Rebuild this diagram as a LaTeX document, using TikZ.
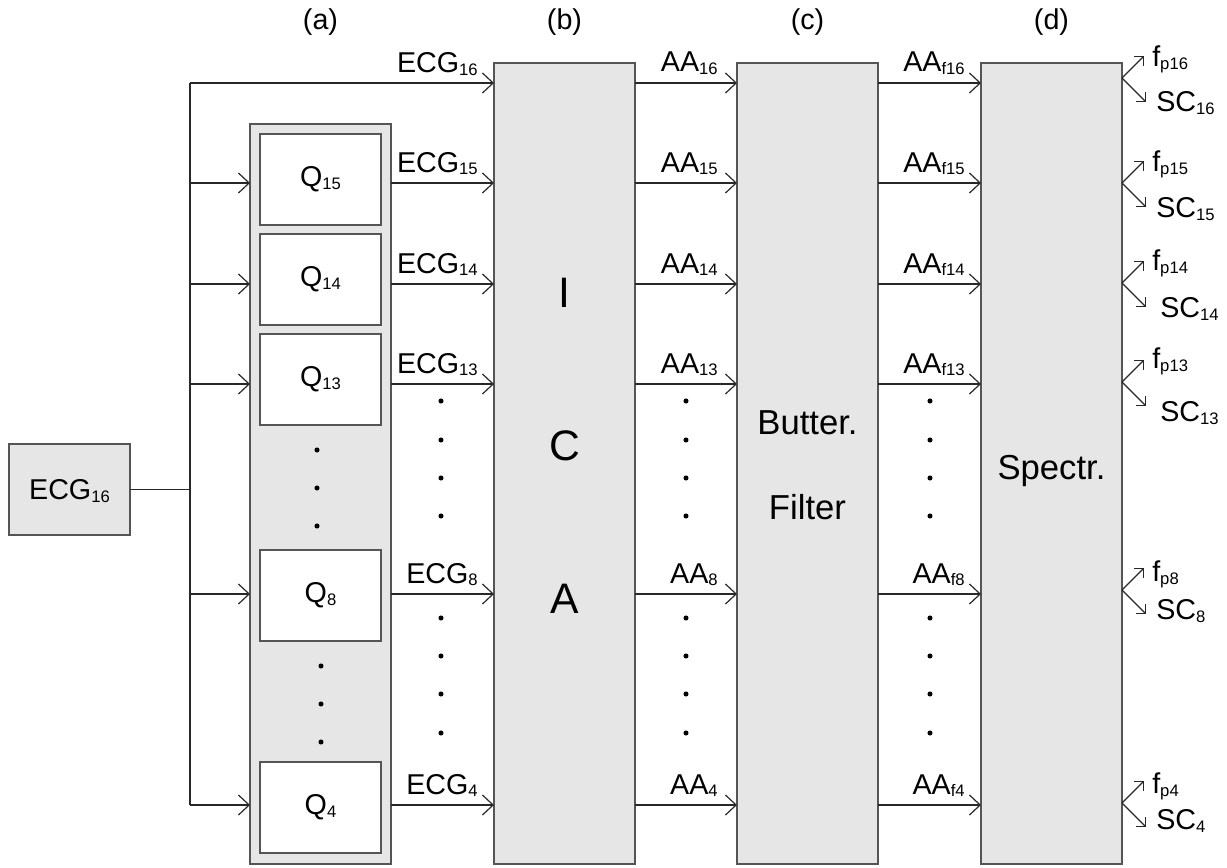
\documentclass[tikz,border=0pt]{standalone}
\usepackage{fontspec}
\setmainfont{Liberation Sans}
\usetikzlibrary{arrows.meta,calc}
\definecolor{gfill}{RGB}{230,230,230}
\definecolor{bcol}{RGB}{85,85,85}
\definecolor{lcol}{RGB}{40,40,40}
\newcommand\sbs[1]{\raisebox{-2pt}[0pt][0pt]{\fontsize{12.5}{12.5}\selectfont #1}}
\begin{document}
\begin{tikzpicture}[x=0.75pt,y=-0.75pt,
  gbox/.style={draw=bcol,fill=gfill,line width=1pt,inner sep=0pt,outer sep=0pt},
  colbox/.style={gbox,minimum width=105.75pt,minimum height=600.75pt},
  qbox/.style={draw=bcol,fill=white,line width=1pt,inner sep=0pt,outer sep=0pt,
    minimum width=90.75pt,minimum height=68.25pt,font=\fontsize{21.5}{24}\selectfont},
  ln/.style={draw=lcol,line width=0.9pt},
  arr/.style={ln,-{Straight Barb[length=8pt,width=15pt]}},
  sarr/.style={ln,-{Straight Barb[length=4.8pt,width=9.6pt]}},
  lbl/.style={inner sep=0pt,font=\fontsize{21.5}{24}\selectfont},
  big/.style={inner sep=0pt,font=\fontsize{32}{36}\selectfont},
  mid/.style={inner sep=0pt,font=\fontsize{26}{30}\selectfont},
  dot/.style={fill=black}]
\useasboundingbox (0,0) rectangle (1227,867);

% main boxes
\node[gbox,minimum width=90.75pt,minimum height=68.25pt,font=\fontsize{21.5}{24}\selectfont]
  (src) at (69.5,489.5) {ECG\sbs{16}};
\node[gbox,minimum width=105.75pt,minimum height=555pt] (grp) at (320.5,494) {};
\node[colbox] (ica) at (564.5,463.5) {};
\node[colbox] (bf) at (807.5,463.5) {};
\node[colbox] (sp) at (1051.5,463.5) {};

% Q boxes
\node[qbox] (q15) at (320.5,179.5) {Q\sbs{15}};
\node[qbox] (q14) at (320.5,279.5) {Q\sbs{14}};
\node[qbox] (q13) at (320.5,379.5) {Q\sbs{13}};
\node[qbox] (q8)  at (320.5,595.5) {Q\sbs{8}};
\node[qbox] (q4)  at (320.5,807.5) {Q\sbs{4}};

% box texts
\node[big,anchor=base] (ti) at (564.5,307) {I};
\node[big,anchor=base] (tc) at (564.5,460) {C};
\node[big,anchor=base] (ta) at (564.5,613) {A};
\node[mid,anchor=base] (tb1) at (807.5,434) {Butter.};
\node[mid,anchor=base] (tb2) at (807.5,519.5) {Filter};
\node[mid,anchor=base] (ts) at (1051.5,479.5) {Spectr.};

% column headings
\node[lbl] (la) at (320.5,22) {(a)};
\node[lbl] (lb) at (564.5,22) {(b)};
\node[lbl] (lc) at (807.5,22) {(c)};
\node[lbl] (ld) at (1051.5,22) {(d)};

% row coordinates
\coordinate (r16) at (0,83);
\coordinate (r15) at (0,183);
\coordinate (r14) at (0,284);
\coordinate (r13) at (0,384);
\coordinate (r8) at (0,594);
\coordinate (r4) at (0,805);
\coordinate (jtop) at (190,83);
\coordinate (jbot) at (190,805);
\coordinate (jmid) at (190,489.5);

% input distribution
\draw[ln] (src.east) -- (jmid);
\draw[ln] (jtop) -- (jbot);
\draw[arr] (jtop) -- (ica.west |- r16);
\node[lbl,anchor=base east] at ($(ica.west |- r16)+(-16,-10.5)$) {ECG\sbs{16}};
\foreach \n in {15,14,13,8,4}{
  \draw[arr] (jtop |- r\n) -- (grp.west |- r\n);
  \draw[arr] (grp.east |- r\n) -- (ica.west |- r\n);
  \node[lbl,anchor=base east] at ($(ica.west |- r\n)+(-16,-11)$) {ECG\sbs{\n}};
}
\foreach \n in {16,15,14,13,8,4}{
  \draw[arr] (ica.east |- r\n) -- (bf.west |- r\n);
  \node[lbl,anchor=base east] at ($(bf.west |- r\n)+(-19,-11)$) {AA\sbs{\n}};
  \draw[arr] (bf.east |- r\n) -- (sp.west |- r\n);
  \node[lbl,anchor=base east] at ($(sp.west |- r\n)+(-16,-11)$) {AA\sbs{f\n}};
}

% dots
\foreach \x in {441,686,930}{
  \foreach \y in {401,440,478,516,618,656,694,733}{
    \fill[dot] (\x,\y) circle[radius=1.9pt];
  }
}
\foreach \y in {450,488,526}{ \fill[dot] (317,\y) circle[radius=1.9pt]; }
\foreach \y in {666,704,742}{ \fill[dot] (321,\y) circle[radius=1.9pt]; }

% outputs
\foreach \n/\b/\fy/\sy/\sx in {16/78/56/102/1156, 15/183/161/208/1156, 14/283/260/308/1160,
    13/382/358/412/1160, 8/590/571/610/1156, 4/803/783/820/1156}{
  \coordinate (b\n) at (0,\b);
  \draw[sarr] (sp.east |- b\n) -- ++(22,-22);
  \draw[sarr] (sp.east |- b\n) -- ++(24,24);
  \node[lbl,anchor=west] at (1152,\fy) {f\sbs{p\n}};
  \node[lbl,anchor=west] at (\sx,\sy) {SC\sbs{\n}};
}
\end{tikzpicture}
\end{document}
